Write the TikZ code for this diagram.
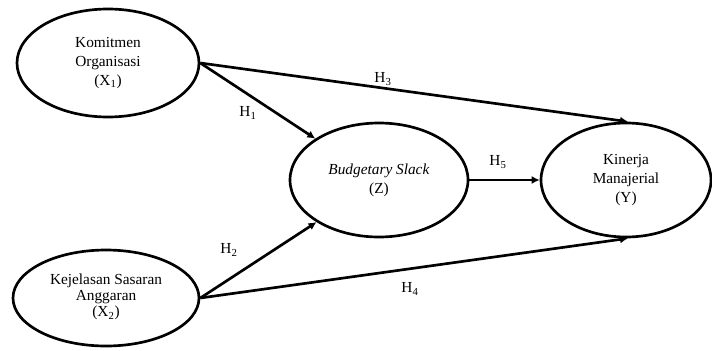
\documentclass[tikz,border=0pt]{standalone}
\usepackage{fontspec}
\setmainfont{Liberation Serif}
\usetikzlibrary{shapes.geometric,arrows.meta}
\tikzset{
	latent/.style={ellipse, draw, line width=2pt, inner sep=0pt, align=center, font=\fontsize{11.5}{14}\selectfont},
	hpath/.style={line width=2pt, -{Latex[length=6pt,width=6pt]}},
	hlabel/.style={font=\fontsize{11.5}{13}\selectfont}
}
\begin{document}
\begin{tikzpicture}[x=0.75pt,y=0.75pt,yscale=-1]
			\useasboundingbox (0,0) rectangle (712,350);
			
			%Shape: Ellipse [id:komitmen]
			\draw (108,63) node [latent, minimum width=136.5pt, minimum height=81pt] (komitmen) {Komitmen\\Organisasi\\(X\textsubscript{1})};
			%Shape: Ellipse [id:kejelasan]
			\draw (106,298) node [latent, minimum width=139.5pt, minimum height=72pt, font=\fontsize{11.5}{12}\selectfont, text depth=4pt] (kejelasan) {Kejelasan Sasaran\\Anggaran\\(X\textsubscript{2})};
			%Shape: Ellipse [id:slack]
			\draw (379,180) node [latent, minimum width=133.5pt, minimum height=85.5pt] (slack) {\textit{Budgetary Slack}\\(Z)};
			%Shape: Ellipse [id:kinerja]
			\draw (626,180) node [latent, minimum width=127.5pt, minimum height=85.5pt] (kinerja) {Kinerja\\Manajerial\\(Y)};
			
			%Straight Lines [id:h1]
			\draw [hpath] (komitmen.east) -- (slack.147) ;
			%Straight Lines [id:h2]
			\draw [hpath] (kejelasan.east) -- (slack.214) ;
			%Straight Lines [id:h3]
			\draw [hpath] (komitmen.east) -- (kinerja.88) ;
			%Straight Lines [id:h4]
			\draw [hpath] (kejelasan.east) -- (kinerja.272) ;
			%Straight Lines [id:h5]
			\draw [hpath] (slack.east) -- (kinerja.west) ;
			
			% Text Node
			\draw (248,113) node [hlabel] (labh1) {H\textsubscript{1}};
			% Text Node
			\draw (229,250) node [hlabel] (labh2) {H\textsubscript{2}};
			% Text Node
			\draw (383,79) node [hlabel] (labh3) {H\textsubscript{3}};
			% Text Node
			\draw (410,289) node [hlabel] (labh4) {H\textsubscript{4}};
			% Text Node
			\draw (498,162) node [hlabel] (labh5) {H\textsubscript{5}};
\end{tikzpicture}
\end{document}
